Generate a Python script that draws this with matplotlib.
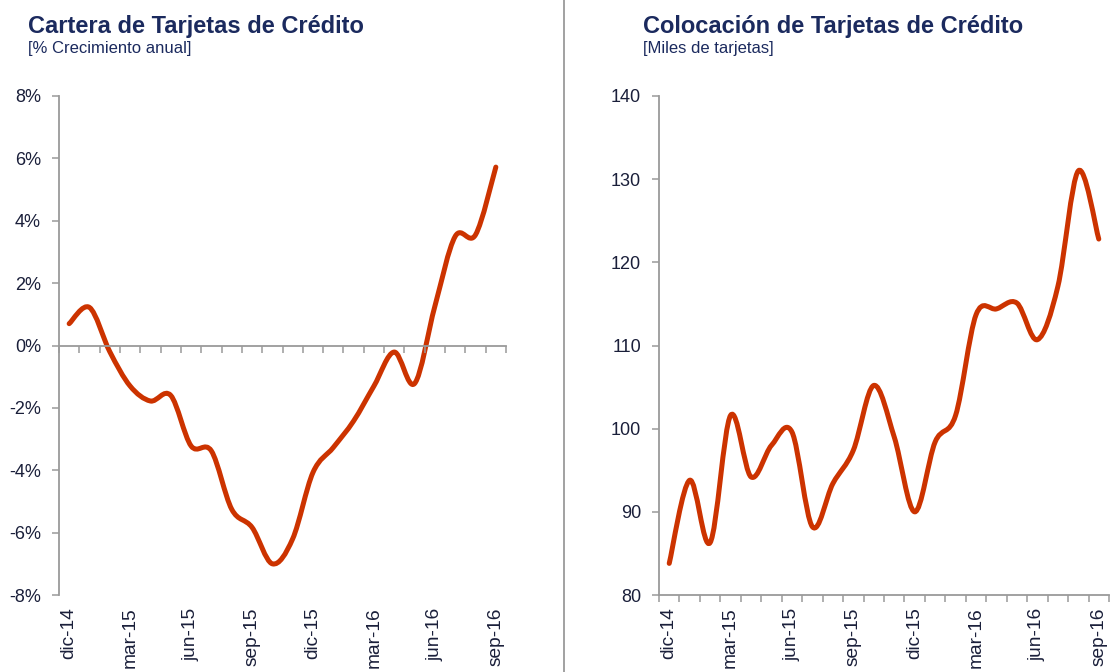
import numpy as np
import matplotlib
matplotlib.use("Agg")
import matplotlib.pyplot as plt
from matplotlib.path import Path
from matplotlib.patches import PathPatch
from matplotlib.lines import Line2D

plt.rcParams['font.family'] = ['Liberation Sans', 'DejaVu Sans']
plt.rcParams['axes.unicode_minus'] = False

# ---- data ----
months = ["dic-14", "ene-15", "feb-15", "mar-15", "abr-15", "may-15", "jun-15",
          "jul-15", "ago-15", "sep-15", "oct-15", "nov-15", "dic-15", "ene-16",
          "feb-16", "mar-16", "abr-16", "may-16", "jun-16", "jul-16", "ago-16",
          "sep-16"]
label_every = 3

cartera_growth = [0.70, 1.22, -0.20, -1.30, -1.78, -1.60, -3.22, -3.38, -5.25,
                  -5.83, -7.00, -6.20, -4.07, -3.27, -2.42, -1.30, -0.21, -1.22,
                  1.26, 3.50, 3.55, 5.72]

colocacion = [83.8, 93.8, 86.3, 101.6, 94.2, 98.0, 99.6, 88.2, 93.4, 97.4, 105.2,
              99.0, 90.0, 98.4, 101.6, 113.7, 114.4, 115.1, 110.7, 117.1, 131.0,
              122.8]

left_yticks = [-8, -6, -4, -2, 0, 2, 4, 6, 8]
right_yticks = [80, 90, 100, 110, 120, 130, 140]

titles = ["Cartera de Tarjetas de Crédito", "Colocación de Tarjetas de Crédito"]
subtitles = ["[% Crecimiento anual]", "[Miles de tarjetas]"]

# ---- style ----
LINE_COLOR = "#cc3300"
TITLE_COLOR = "#1b2a5e"
TICK_COLOR = "#1a1f3a"
AXIS_COLOR = "#9a9a9a"


def smooth_path(x, y):
    """Excel-like smoothed line (Catmull-Rom as cubic Bezier)."""
    x = np.asarray(x, float)
    y = np.asarray(y, float)
    n = len(x)
    verts = [(x[0], y[0])]
    codes = [Path.MOVETO]
    for i in range(n - 1):
        x0, y0 = (x[i - 1], y[i - 1]) if i > 0 else (x[i], y[i])
        x1, y1 = x[i], y[i]
        x2, y2 = x[i + 1], y[i + 1]
        x3, y3 = (x[i + 2], y[i + 2]) if i + 2 < n else (x2, y2)
        c1 = (x1 + (x2 - x0) / 6.0, y1 + (y2 - y0) / 6.0)
        c2 = (x2 - (x3 - x1) / 6.0, y2 - (y3 - y1) / 6.0)
        verts += [c1, c2, (x2, y2)]
        codes += [Path.CURVE4] * 3
    return Path(verts, codes)


W, H = 1112, 672
fig = plt.figure(figsize=(W / 100, H / 100), dpi=100)

n = len(months)
xc = np.arange(n) + 0.5


def setup(ax, yticks, fmt, zero_axis):
    ax.set_xlim(0, n)
    ax.set_ylim(yticks[0], yticks[-1])
    for s in ["top", "right"]:
        ax.spines[s].set_visible(False)
    for s in ["left", "bottom"]:
        ax.spines[s].set_color(AXIS_COLOR)
        ax.spines[s].set_linewidth(1.3)
    if zero_axis:
        ax.spines["bottom"].set_position(("data", 0))
    ax.set_yticks(yticks)
    ax.set_yticklabels([fmt(v) for v in yticks])
    ax.set_xticks(np.arange(n + 1))
    ax.set_xticklabels([])
    ax.tick_params(axis="x", direction="out", length=5, width=1.1, color=AXIS_COLOR)
    ax.tick_params(axis="y", direction="out", length=5, width=1.1, color=AXIS_COLOR,
                   labelsize=13, labelcolor=TICK_COLOR, pad=8)
    ax.patch.set_alpha(0)
    for i in range(0, n, label_every):
        ax.text(xc[i], -0.025, months[i], transform=ax.get_xaxis_transform(),
                rotation=90, ha="center", va="top", fontsize=13.8, color=TICK_COLOR)


ax1 = fig.add_axes([59 / W, 1 - 595 / H, 447 / W, 499 / H])
setup(ax1, left_yticks, lambda v: f"{v}%", True)
ax1.add_patch(PathPatch(smooth_path(xc, cartera_growth), fill=False,
                        edgecolor=LINE_COLOR, linewidth=3.6, capstyle="round",
                        joinstyle="round"))

ax2 = fig.add_axes([659 / W, 1 - 595 / H, 450 / W, 499 / H])
setup(ax2, right_yticks, lambda v: f"{v}", False)
ax2.add_patch(PathPatch(smooth_path(xc, colocacion), fill=False,
                        edgecolor=LINE_COLOR, linewidth=3.6, capstyle="round",
                        joinstyle="round"))

# titles
for xpix, t, st in [(28, titles[0], subtitles[0]), (643, titles[1], subtitles[1])]:
    fig.text(xpix / W, 1 - 33 / H, t, fontsize=17, fontweight="bold",
             color=TITLE_COLOR, va="baseline", ha="left")
    fig.text(xpix / W, 1 - 53 / H, st, fontsize=12, color=TITLE_COLOR,
             va="baseline", ha="left")

# divider
fig.add_artist(Line2D([564 / W, 564 / W], [0, 1], transform=fig.transFigure,
                      color=AXIS_COLOR, linewidth=1.3))

fig.savefig("out.png", dpi=100, facecolor="white")
